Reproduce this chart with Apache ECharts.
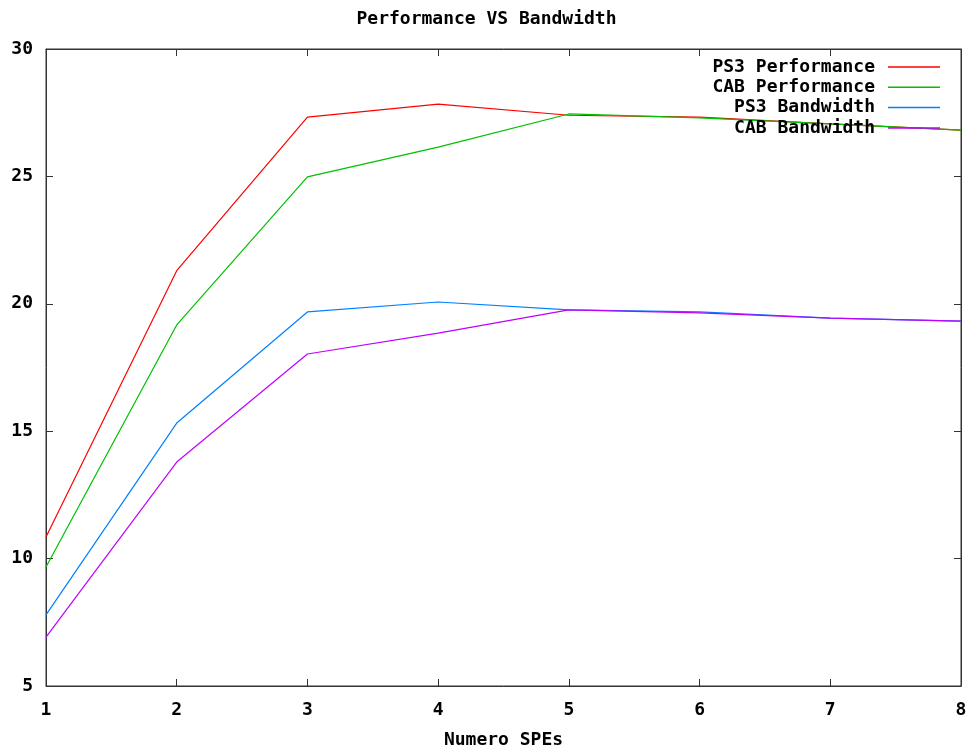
<!DOCTYPE html>
<html>
<head>
<meta charset="utf-8">
<script src="https://cdn.jsdelivr.net/npm/echarts@6/dist/echarts.min.js"></script>
<style>
  html, body { margin: 0; padding: 0; background: #fff; }
  #chart { width: 973px; height: 751px; }
</style>
</head>
<body>
<div id="chart"></div>
<script>
// number of SPEs on the x axis
const speCounts = [1, 2, 3, 4, 5, 6, 7, 8]
const ps3Performance = [10.85, 21.3, 27.33, 27.84, 27.4, 27.33, 27.06, 26.82]
const cabPerformance = [9.67, 19.17, 24.98, 26.15, 27.45, 27.3, 27.06, 26.82]
const ps3Bandwidth = [7.79, 15.32, 19.68, 20.07, 19.76, 19.68, 19.44, 19.32]
const cabBandwidth = [6.92, 13.79, 18.03, 18.85, 19.76, 19.64, 19.44, 19.32]

const seriesNames = ['PS3 Performance', 'CAB Performance', 'PS3 Bandwidth', 'CAB Bandwidth']
const seriesValues = [ps3Performance, cabPerformance, ps3Bandwidth, cabBandwidth]
const colors = ['#ff0000', '#00c000', '#0080ff', '#c000ff']

const font = 'DejaVu Sans Mono'
const axisColor = '#333'
const textStyle = { fontFamily: font, fontWeight: 'bold', fontSize: 18, color: '#000' }

const chart = echarts.init(document.getElementById('chart'))

// one legend per row so the line samples line up on the right
const legends = seriesNames.map((name, i) => ({
  data: [name],
  right: 28,
  top: 53 + i * 20.3,
  align: 'right',
  icon: 'rect',
  itemWidth: 52,
  itemHeight: 1.5,
  textStyle: { ...textStyle, padding: [0, 8, 0, 0] },
  selectedMode: false
}))

const option = {
  animation: false,
  backgroundColor: '#fff',
  title: {
    text: 'Performance VS Bandwidth',
    left: 'center',
    top: 5,
    textStyle
  },
  legend: legends,
  grid: {
    left: 46, right: 12, top: 49, bottom: 65,
    outerBoundsMode: 'none',
    containLabel: false,
    show: true, borderColor: axisColor, borderWidth: 1
  },
  xAxis: [
    {
      type: 'value', min: 1, max: 8, interval: 1,
      name: 'Numero SPEs', nameLocation: 'middle', nameGap: 45,
      nameTextStyle: textStyle,
      axisLine: { lineStyle: { color: axisColor } },
      axisTick: { inside: true, length: 7, lineStyle: { color: axisColor } },
      axisLabel: { ...textStyle, margin: 15 },
      splitLine: { show: false }
    },
    {
      type: 'value', min: 1, max: 8, interval: 1, position: 'top',
      axisLine: { lineStyle: { color: axisColor } },
      axisTick: { inside: true, length: 7, lineStyle: { color: axisColor } },
      axisLabel: { show: false },
      splitLine: { show: false }
    }
  ],
  yAxis: [
    {
      type: 'value', min: 5, max: 30, interval: 5,
      axisLine: { show: true, lineStyle: { color: axisColor } },
      axisTick: { show: true, inside: true, length: 7, lineStyle: { color: axisColor } },
      axisLabel: { ...textStyle, margin: 13 },
      splitLine: { show: false }
    },
    {
      type: 'value', min: 5, max: 30, interval: 5, position: 'right',
      axisLine: { show: true, lineStyle: { color: axisColor } },
      axisTick: { show: true, inside: true, length: 7, lineStyle: { color: axisColor } },
      axisLabel: { show: false },
      splitLine: { show: false }
    }
  ],
  series: seriesNames.map((name, i) => ({
    name,
    type: 'line',
    xAxisIndex: 0,
    yAxisIndex: 0,
    showSymbol: false,
    symbol: 'none',
    color: colors[i],
    lineStyle: { width: 1.2, color: colors[i] },
    data: speCounts.map((x, j) => [x, seriesValues[i][j]])
  }))
}

chart.setOption(option)
</script>
</body>
</html>
